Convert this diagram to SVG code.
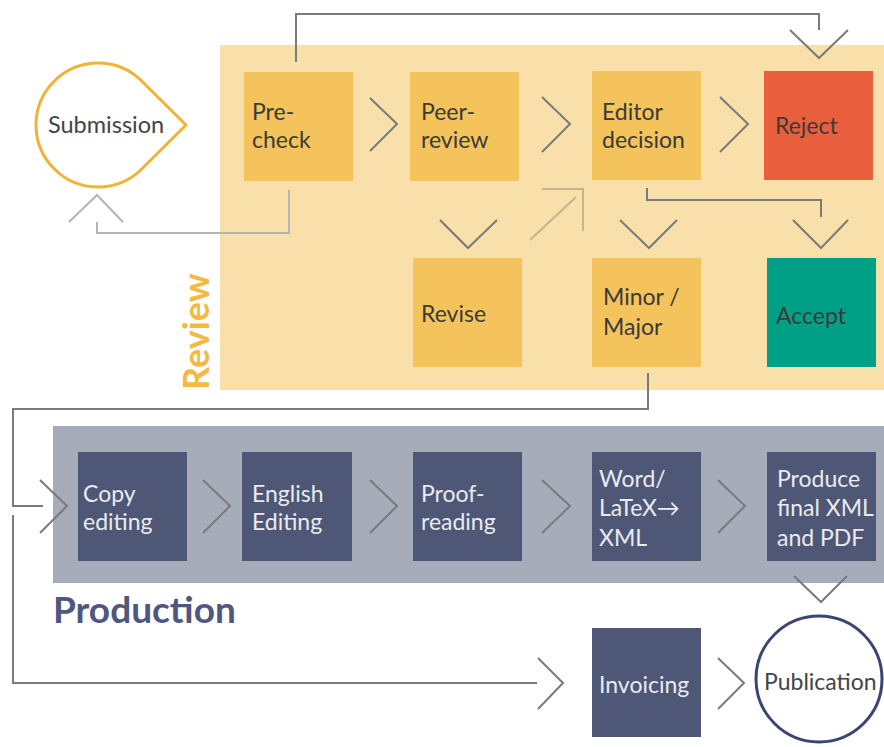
<svg xmlns="http://www.w3.org/2000/svg" width="884" height="747" viewBox="0 0 884 747">
<style>
.bg{fill:#ffffff}
.rev{fill:#F9E0AA}
.prod{fill:#A7ACBA}
.ob{fill:#F5C35C}
.nb{fill:#4E5775}
.t{font-family:Lato,"Liberation Sans",sans-serif;font-size:23px;fill:#3a3a3a}
.tw{font-family:Lato,"Liberation Sans",sans-serif;font-size:23px;fill:#E9EBF1}
.c{fill:none;stroke:#7a7a7a;stroke-width:2}
.cl{fill:none;stroke:#b4b4b4;stroke-width:2}
.cd{fill:none;stroke:#c4b38f;stroke-width:2}
</style>
<rect class="bg" width="884" height="747"/>
<g id="review-area">
<rect class="rev" x="220" y="45" width="664" height="345"/>
<text x="209" y="390" transform="rotate(-90 209 390)" style="font-family:Lato,'Liberation Sans',sans-serif;font-weight:bold;font-size:36px;fill:#F5B942">Review</text>
</g>
<g id="production-area">
<rect class="prod" x="53" y="426" width="831" height="157"/>
<text x="53" y="623" style="font-family:Lato,'Liberation Sans',sans-serif;font-weight:bold;font-size:37px;fill:#4E5780">Production</text>
</g>
<g id="connectors">
<polyline class="c" points="296,62 296,14 819,14 819,30"/>
<polyline class="c" points="790,30 819,58 848,30"/>
<polyline class="cl" points="289,190 289,233 97,233 97,222"/>
<polyline class="cl" points="69,222 97,195 123,222"/>
<polyline class="c" points="370,98 397,124 370,151"/>
<polyline class="c" points="542,97 570,124 542,152"/>
<polyline class="c" points="720,97 748,124 720,152"/>
<line class="cd" x1="530" y1="240" x2="576" y2="197"/>
<polyline class="cd" points="542,189 583,189 583,231"/>
<polyline class="c" points="440,220 468,248 497,220"/>
<polyline class="c" points="620,220 649,248 677,220"/>
<polyline class="c" points="647,188 647,200 821,200 821,217"/>
<polyline class="c" points="793,220 821,248 848,220"/>
<polyline class="c" points="648,373 648,409 13,409 13,506 43,506"/>
<polyline class="c" points="13,515 13,683 537,683"/>
<polyline class="c" points="40,480 67,506 40,533"/>
<polyline class="c" points="203,480 230,506 203,533"/>
<polyline class="c" points="370,480 397,506 370,533"/>
<polyline class="c" points="542,480 570,506 542,533"/>
<polyline class="c" points="718,480 745,506 718,533"/>
<polyline class="c" points="794,576 821,602 847,576"/>
<polyline class="c" points="538,658 563,683 538,709"/>
<polyline class="c" points="718,658 744,683 718,709"/>
</g>
<g id="submission">
<path d="M186,125 L141.7,169 A62,62 0 1 1 141.7,81 Z" fill="#ffffff" stroke="#F2B233" stroke-width="3" stroke-linejoin="round"/>
<text class="t" x="48" y="133" style="font-size:23.5px;fill:#444">Submission</text>
</g>
<g id="pre-check"><rect class="ob" x="244" y="72" width="109" height="109"/><text class="t" x="252" y="120">Pre-</text><text class="t" x="252" y="148">check</text></g>
<g id="peer-review"><rect class="ob" x="410" y="72" width="109" height="109"/><text class="t" x="421" y="120">Peer-</text><text class="t" x="421" y="148">review</text></g>
<g id="editor-decision"><rect class="ob" x="592" y="71" width="109" height="109"/><text class="t" x="602" y="120">Editor</text><text class="t" x="602" y="148">decision</text></g>
<g id="reject"><rect x="764" y="71" width="109" height="109" fill="#E95F3E"/><text class="t" x="775" y="134">Reject</text></g>
<g id="revise"><rect class="ob" x="413" y="258" width="109" height="109"/><text class="t" x="421" y="322">Revise</text></g>
<g id="minor-major"><rect class="ob" x="592" y="258" width="109" height="109"/><text class="t" x="603" y="305">Minor /</text><text class="t" x="603" y="335">Major</text></g>
<g id="accept"><rect x="767" y="258" width="109" height="109" fill="#00A087"/><text class="t" x="776" y="324">Accept</text></g>
<g id="copy-editing"><rect class="nb" x="78" y="452" width="109" height="109"/><text class="tw" x="83" y="502">Copy</text><text class="tw" x="83" y="530">editing</text></g>
<g id="english-editing"><rect class="nb" x="242" y="452" width="110" height="109"/><text class="tw" x="252" y="502">English</text><text class="tw" x="252" y="530">Editing</text></g>
<g id="proof-reading"><rect class="nb" x="413" y="452" width="109" height="109"/><text class="tw" x="421" y="502">Proof-</text><text class="tw" x="421" y="530">reading</text></g>
<g id="word-latex-xml"><rect class="nb" x="592" y="452" width="109" height="109"/><text class="tw" x="599" y="487">Word/</text><text class="tw" x="599" y="516">LaTeX→</text><text class="tw" x="599" y="546">XML</text></g>
<g id="produce-final"><rect class="nb" x="767" y="452" width="109" height="109"/><text class="tw" x="777" y="487">Produce</text><text class="tw" x="777" y="516">final XML</text><text class="tw" x="777" y="546">and PDF</text></g>
<g id="invoicing"><rect class="nb" x="592" y="628" width="109" height="109"/><text class="tw" x="599" y="693">Invoicing</text></g>
<g id="publication"><circle cx="819" cy="679" r="63" fill="#ffffff" stroke="#3A4570" stroke-width="3"/><text class="t" x="764" y="690" style="font-size:23px;fill:#444">Publication</text></g>
</svg>
